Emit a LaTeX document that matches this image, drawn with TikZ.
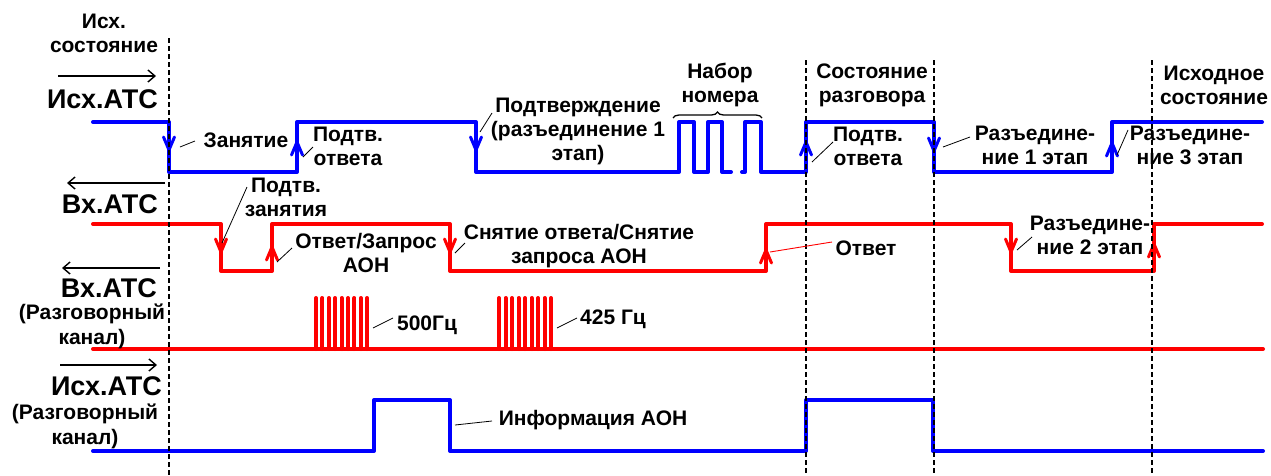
\documentclass[tikz,border=0pt]{standalone}
\usepackage{fontspec}
\setmainfont{Liberation Sans}
\usetikzlibrary{arrows.meta,decorations.pathreplacing}
\begin{document}
\begin{tikzpicture}[x=1pt,y=-1pt,
  sig/.style={line width=4pt,line cap=round,line join=round},
  bsig/.style={sig,draw=blue},
  rsig/.style={sig,draw=red},
  dline/.style={black,line width=2pt,dash pattern=on 5pt off 3pt},
  dirarr/.style={black,line width=1.4pt,-{Straight Barb[length=7pt,width=12pt,line width=1.4pt]}},
  lbl/.style={font=\fontsize{21}{24}\bfseries\selectfont,align=center,inner sep=0pt},
  lblw/.style={lbl,font=\fontsize{21}{25}\bfseries\selectfont},
  big/.style={font=\fontsize{27}{30}\bfseries\selectfont,inner sep=0pt},
  leader/.style={black,line width=0.8pt},
  darr/.pic={\draw[line width=3pt,line cap=round] (-5.5,-7)--(0,6)--(5.5,-7);},
  uarr/.pic={\draw[line width=3pt,line cap=round] (-5.5,7)--(0,-6)--(5.5,7);},
]
\useasboundingbox (0,0) rectangle (1271,475);

% ---------- signals ----------
% row 1: Исх.АТС
\draw[bsig] (93,122) -- (169,122) -- (169,172) -- (297,172) -- (297,122) -- (476,122) -- (476,172)
  -- (679,172) -- (679,122) -- (694,122) -- (694,172) -- (708,172) -- (708,122) -- (722,122)
  -- (722,172) -- (731,172);
\draw[bsig] (742,172) -- (745,172) -- (745,122) -- (761,122) -- (761,172) -- (806,172) -- (806,122)
  -- (934,122) -- (934,172) -- (1112,172) -- (1112,122) -- (1262,122);
\pic[blue] at (169,144) {darr};
\pic[blue] at (297,148) {uarr};
\pic[blue] at (476,144) {darr};
\pic[blue] at (806,148) {uarr};
\pic[blue] at (934,145) {darr};
\pic[blue] at (1112,149) {uarr};

% row 2: Вх.АТС
\draw[rsig] (93,224) -- (221,224) -- (221,271) -- (272,271) -- (272,224) -- (450,224) -- (450,271)
  -- (766,271) -- (766,224) -- (1011,224) -- (1011,271) -- (1154,271) -- (1154,224) -- (1262,224);
\pic[red] at (221,246) {darr};
\pic[red] at (272,253) {uarr};
\pic[red] at (450,246) {darr};
\pic[red] at (766,256) {uarr};
\pic[red] at (1011,246) {darr};
\pic[red] at (1154,250) {uarr};

% row 3: Вх.АТС speech channel
\draw[rsig] (93,349) -- (1263,349);
\foreach \i in {0,...,8} {
  \draw[rsig] ({316+6.4*\i},349) -- ({316+6.4*\i},298);
  \draw[rsig] ({499+6.5*\i},349) -- ({499+6.5*\i},298);
}

% row 4: Исх.АТС speech channel
\draw[bsig] (93,451) -- (374,451) -- (374,400) -- (450,400) -- (450,451) -- (806,451) -- (806,400)
  -- (933,400) -- (933,451) -- (1263,451);

% ---------- dashed state lines ----------
\draw[dline] (169,38) -- (169,475);
\draw[dline] (806,60) -- (806,475);
\draw[dline] (934,60) -- (934,475);
\draw[dline] (1152,60) -- (1152,475);

% ---------- left labels ----------
\node[lbl] (st0) at (104,33) {Исх.\\состояние};
\coordinate (a1s) at (58,76);  \coordinate (a1e) at (156,76);
\draw[dirarr] (a1s) -- (a1e);
\node[big,anchor=base east] (ish1) at (158,108) {Исх.АТС};
\coordinate (a2s) at (165,183); \coordinate (a2e) at (67,183);
\draw[dirarr] (a2s) -- (a2e);
\node[big,anchor=base east] (vh1) at (158,213) {Вх.АТС};
\coordinate (a3s) at (160,268); \coordinate (a3e) at (62,268);
\draw[dirarr] (a3s) -- (a3e);
\node[big,anchor=base east] (vh2) at (157,297) {Вх.АТС};
\node[lblw] (rk1) at (92,326) {(Разговорный\\канал)};
\coordinate (a4s) at (60,365); \coordinate (a4e) at (157,365);
\draw[dirarr] (a4s) -- (a4e);
\node[big,anchor=base east] (ish2) at (162,395) {Исх.АТС};
\node[lblw] (rk2) at (85,426) {(Разговорный\\канал)};

% ---------- state labels ----------
\node[lbl] (nabor) at (720,85) {Набор\\номера};
\coordinate (br1) at (673,118); \coordinate (br2) at (762,118);
\draw[black,line width=1.3pt,decorate,decoration={brace,amplitude=6pt}] (br1) -- (br2);
\node[lbl] (razg) at (872,85) {Состояние\\разговора};
\node[lbl] (isxs) at (1214,85) {Исходное\\состояние};

% ---------- event labels with leaders ----------
\node[lbl] (zan) at (246,140) {Занятие};
\coordinate (zan0) at (180,147); \coordinate (zan1) at (195,141);
\draw[leader] (zan0) -- (zan1);

\node[lbl] (po1) at (348,146) {Подтв.\\ответа};
\coordinate (po10) at (303,157); \coordinate (po11) at (313,147);
\draw[leader] (po10) -- (po11);

\node[lbl] (pz) at (286,197) {Подтв.\\занятия};
\coordinate (pz0) at (222,243); \coordinate (pz1) at (247,187);
\draw[leader] (pz0) -- (pz1);

\node[lbl] (oz) at (366,253) {Ответ/Запрос\\АОН};
\coordinate (oz0) at (277,262); \coordinate (oz1) at (292,248);
\draw[leader] (oz0) -- (oz1);

\node[lbl] (pdt) at (578,131) {Подтверждение\\(разъединение 1\\этап)};
\coordinate (pdt0) at (480,132); \coordinate (pdt1) at (492,113);
\draw[leader] (pdt0) -- (pdt1);

\node[lbl] (po2) at (868,146) {Подтв.\\ответа};
\coordinate (po20) at (812,162); \coordinate (po21) at (833,142);
\draw[leader] (po20) -- (po21);

\node[lbl] (r1) at (1035,145) {Разъедине-\\ние 1 этап};
\coordinate (r10) at (943,147); \coordinate (r11) at (970,137);
\draw[leader] (r10) -- (r11);

\node[lbl] (r3) at (1190,145) {Разъедине-\\ние 3 этап};
\coordinate (r30) at (1117,155); \coordinate (r31) at (1128,130);
\draw[leader] (r30) -- (r31);

\node[lbl] (r2) at (1090,235) {Разъедине-\\ние 2 этап};
\coordinate (r20) at (1017,250); \coordinate (r21) at (1032,237);
\draw[leader] (r20) -- (r21);

\node[lbl] (sn) at (579,246) {Снятие ответа/Снятие\\запроса АОН};
\coordinate (sn0) at (455,253); \coordinate (sn1) at (465,243);
\draw[leader] (sn0) -- (sn1);

\node[lbl] (otv) at (866,248) {Ответ};
\coordinate (otv0) at (770,252); \coordinate (otv1) at (832,242);
\draw[red,line width=0.9pt] (otv0) -- (otv1);

\node[lbl] (f500) at (427,325) {500Гц};
\coordinate (f5000) at (373,328); \coordinate (f5001) at (393,318);
\draw[leader] (f5000) -- (f5001);

\node[lbl] (f425) at (613,319) {425 Гц};
\coordinate (f4250) at (557,328); \coordinate (f4251) at (577,318);
\draw[leader] (f4250) -- (f4251);

\node[lbl] (info) at (593,420) {Информация АОН};
\coordinate (info0) at (455,425); \coordinate (info1) at (492,421);
\draw[leader] (info0) -- (info1);
\end{tikzpicture}
\end{document}
